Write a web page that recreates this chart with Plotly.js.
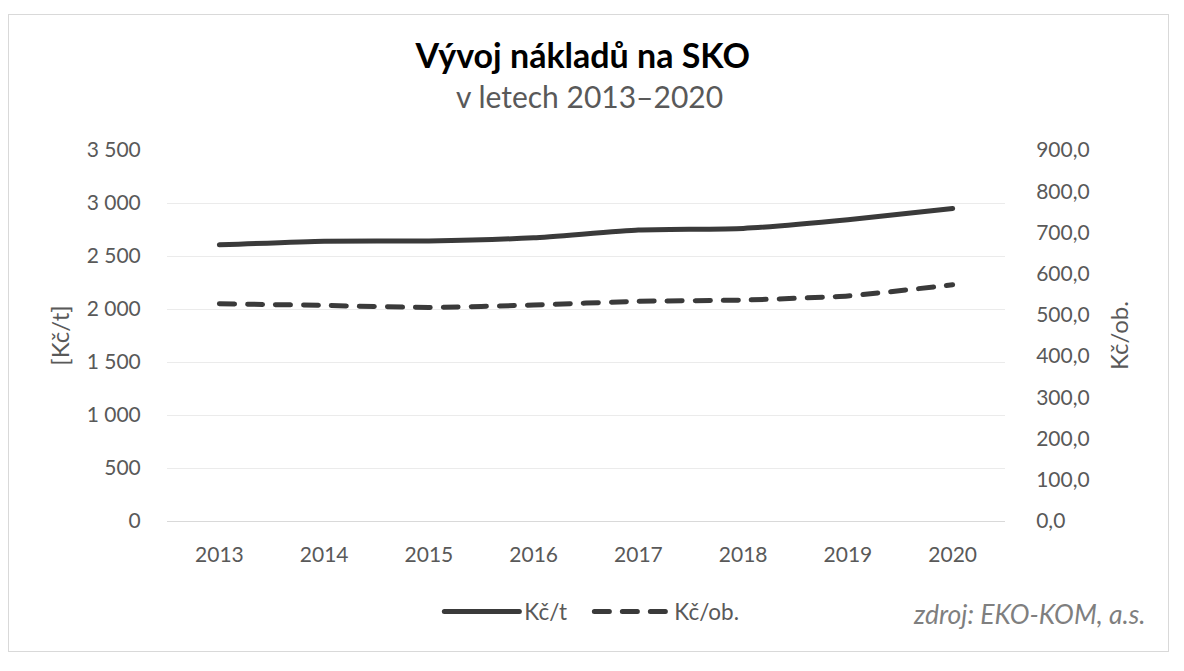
<!DOCTYPE html>
<html>
<head>
<meta charset="utf-8">
<script src="https://cdn.plot.ly/plotly-3.0.1.min.js"></script>
<style>
  html, body { margin: 0; padding: 0; background: #ffffff; }
  #frame { position: absolute; left: 8px; top: 14px; width: 1159px; height: 636px; border: 1px solid #d9d9d9; pointer-events: none; z-index: 5; }
  #chart { position: absolute; left: 0; top: 0; width: 1184px; height: 671px; }
  #chart .js-line { stroke-linecap: round; stroke-linejoin: round; }
  #chart .legendlines path { stroke-linecap: round; }
</style>
</head>
<body>
<div id="chart"></div>
<div id="frame"></div>
<script>
const years = ['2013', '2014', '2015', '2016', '2017', '2018', '2019', '2020'];
const costPerTon = [2605, 2640, 2642, 2672, 2745, 2760, 2842, 2948];
const costPerCapita = [527, 523, 518, 524, 533, 536, 546, 573];
const seriesNames = ['Kč/t', 'Kč/ob.'];
const leftTicks = [0, 500, 1000, 1500, 2000, 2500, 3000, 3500];
const rightTicks = [0, 100, 200, 300, 400, 500, 600, 700, 800, 900];

const FONT = 'Lato, "Open Sans", sans-serif';
const GRAY = '#595959';
const LINE = '#3a3a3a';
const TICK = 21;

const traces = [
  {
    x: years, y: costPerTon, name: seriesNames[0], type: 'scatter', mode: 'lines',
    line: { color: LINE, width: 5, shape: 'spline', smoothing: 0.5 },
    yaxis: 'y', hoverinfo: 'x+y'
  },
  {
    x: years, y: costPerCapita, name: seriesNames[1], type: 'scatter', mode: 'lines',
    line: { color: LINE, width: 5, dash: '15px,13px', shape: 'spline', smoothing: 0.5 },
    yaxis: 'y2', hoverinfo: 'x+y'
  }
];

const layout = {
  width: 1184, height: 671,
  paper_bgcolor: '#ffffff', plot_bgcolor: '#ffffff',
  separators: ', ',
  font: { family: FONT, color: GRAY, size: TICK },
  margin: { l: 167, r: 179, t: 150, b: 150, pad: 0 },
  title: {
    text: '<b>Vývoj nákladů na SKO</b>',
    font: { family: FONT, size: 34, color: '#000000' },
    x: 0.496, xanchor: 'center', xref: 'paper',
    y: 0.917, yanchor: 'middle', yref: 'container'
  },
  showlegend: true,
  legend: {
    orientation: 'h', x: 0.325, xanchor: 'left', y: -0.245, yanchor: 'middle',
    font: { family: FONT, size: 22.5, color: GRAY },
    itemwidth: 75, entrywidth: 60, entrywidthmode: 'pixels',
    tracegroupgap: 0, bgcolor: 'rgba(0,0,0,0)'
  },
  xaxis: {
    type: 'category', categoryorder: 'array', categoryarray: years,
    range: [-0.5, 7.5],
    showgrid: false, zeroline: false,
    showline: true, linecolor: '#d9d9d9', linewidth: 1,
    ticks: 'outside', ticklen: 15, tickcolor: 'rgba(0,0,0,0)',
    tickfont: { family: FONT, size: TICK, color: GRAY }, fixedrange: true
  },
  yaxis: {
    range: [0, 3500], tickvals: leftTicks, tickformat: ',d',
    showgrid: true, gridcolor: '#ebebeb', gridwidth: 1,
    zeroline: false, showline: false,
    ticks: 'outside', ticklen: 21, tickcolor: 'rgba(0,0,0,0)',
    tickfont: { family: FONT, size: TICK, color: GRAY },
    title: { text: '[Kč/t]', font: { family: FONT, size: 24, color: GRAY }, standoff: 10 },
    fixedrange: true
  },
  yaxis2: {
    overlaying: 'y', side: 'right',
    range: [0, 900], tickvals: rightTicks, tickformat: '.1f',
    showgrid: false, zeroline: false, showline: false,
    ticks: 'outside', ticklen: 26, tickcolor: 'rgba(0,0,0,0)',
    tickfont: { family: FONT, size: TICK, color: GRAY },
    title: { text: 'Kč/ob.', font: { family: FONT, size: 24, color: GRAY }, standoff: 22 },
    fixedrange: true
  },
  annotations: [
    {
      text: 'v letech 2013–2020', xref: 'paper', yref: 'paper',
      x: 0.504, xanchor: 'center', y: 1.145, yanchor: 'middle', showarrow: false,
      font: { family: FONT, size: 30, color: GRAY }
    },
    {
      text: '<i>zdroj: EKO-KOM, a.s.</i>', xref: 'paper', yref: 'paper',
      x: 1.169, xanchor: 'right', y: -0.252, yanchor: 'middle', showarrow: false,
      font: { family: FONT, size: 26.5, color: '#7f7f7f' }
    }
  ]
};

Plotly.newPlot('chart', traces, layout, { displayModeBar: false, staticPlot: true });
</script>
</body>
</html>
